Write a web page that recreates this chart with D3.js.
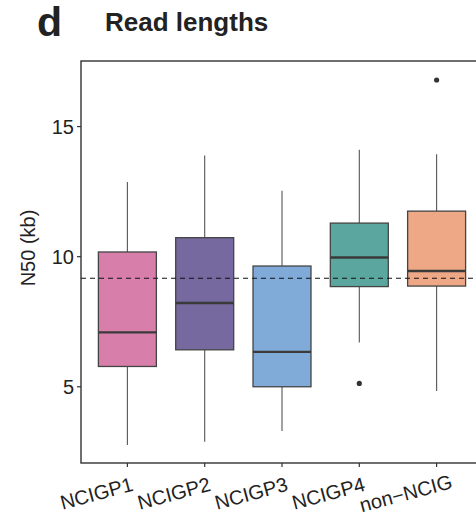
<!DOCTYPE html>
<html>
<head>
<meta charset="utf-8">
<script src="https://cdn.jsdelivr.net/npm/d3@7"></script>
<style>
  html, body { margin: 0; padding: 0; background: #fff; }
  svg { display: block; font-family: "Liberation Sans", Arial, Helvetica, sans-serif; }
</style>
</head>
<body>
<svg id="chart" width="476" height="527"></svg>
<script>
// N50 read-length summaries (kb) per group
const groups   = ["NCIGP1", "NCIGP2", "NCIGP3", "NCIGP4", "non\u2212NCIG"];
const whiskLo  = [2.76, 2.89, 3.30, 6.70, 4.84];
const q1       = [5.78, 6.42, 5.00, 8.85, 8.87];
const medians  = [7.09, 8.22, 6.34, 9.97, 9.45];
const q3       = [10.18, 10.73, 9.64, 11.29, 11.75];
const whiskHi  = [12.87, 13.89, 12.53, 14.11, 13.94];
const outliers = [[], [], [], [5.13], [16.79]];
const fills    = ["#D77EAB", "#7569A0", "#80ABD8", "#5BA69E", "#EEA886"];
const yTicks   = [5, 10, 15];
const overallMedian = 9.17;

const svg = d3.select("#chart");
const m = { left: 81, top: 61, right: 483, bottom: 463 };

// discrete x positions with 0.6 category units of padding on each side
const x = d3.scalePoint().domain(groups).range([m.left, m.right]).padding(0.6);
const step = x.step();
const boxW = step * 0.75;

const y = d3.scaleLinear().domain([2.07, 17.52]).range([m.bottom, m.top]);

const rows = groups.map((g, i) => ({
  g, lo: whiskLo[i], q1: q1[i], med: medians[i], q3: q3[i], hi: whiskHi[i],
  out: outliers[i], fill: fills[i]
}));

// panel frame
svg.append("rect")
  .attr("x", m.left).attr("y", m.top)
  .attr("width", m.right - m.left).attr("height", m.bottom - m.top)
  .attr("fill", "none").attr("stroke", "#333").attr("stroke-width", 1.4);

// y axis ticks and labels
const yAxis = svg.append("g");
yTicks.forEach(t => {
  yAxis.append("line")
    .attr("x1", m.left - 4).attr("x2", m.left)
    .attr("y1", y(t)).attr("y2", y(t))
    .attr("stroke", "#333").attr("stroke-width", 1.2);
  yAxis.append("text")
    .attr("x", m.left - 7).attr("y", y(t))
    .attr("dy", "0.36em").attr("text-anchor", "end")
    .attr("font-size", 20).attr("fill", "#222")
    .text(t);
});

svg.append("text")
  .attr("transform", "translate(35,248) rotate(-90)")
  .attr("text-anchor", "middle")
  .attr("font-size", 20).attr("fill", "#222")
  .text("N50 (kb)");

// x axis ticks and rotated labels
groups.forEach(g => {
  svg.append("line")
    .attr("x1", x(g)).attr("x2", x(g))
    .attr("y1", m.bottom).attr("y2", m.bottom + 4)
    .attr("stroke", "#333").attr("stroke-width", 1.2);
  svg.append("text")
    .attr("transform", `translate(${x(g) - 29},${m.bottom + 37}) rotate(-15)`)
    .attr("text-anchor", "middle")
    .attr("font-size", 20).attr("fill", "#222")
    .text(g);
});

// boxes
const box = svg.append("g").selectAll("g").data(rows).join("g");

box.append("line")
  .attr("x1", d => x(d.g)).attr("x2", d => x(d.g))
  .attr("y1", d => y(d.q3)).attr("y2", d => y(d.hi))
  .attr("stroke", "#555").attr("stroke-width", 1.1);
box.append("line")
  .attr("x1", d => x(d.g)).attr("x2", d => x(d.g))
  .attr("y1", d => y(d.q1)).attr("y2", d => y(d.lo))
  .attr("stroke", "#555").attr("stroke-width", 1.1);

box.append("rect")
  .attr("x", d => x(d.g) - boxW / 2).attr("width", boxW)
  .attr("y", d => y(d.q3)).attr("height", d => y(d.q1) - y(d.q3))
  .attr("fill", d => d.fill)
  .attr("stroke", "#444").attr("stroke-width", 1.3);

box.append("line")
  .attr("x1", d => x(d.g) - boxW / 2).attr("x2", d => x(d.g) + boxW / 2)
  .attr("y1", d => y(d.med)).attr("y2", d => y(d.med))
  .attr("stroke", "#3a3a3a").attr("stroke-width", 2.4);

box.selectAll("circle").data(d => d.out.map(v => ({ g: d.g, v }))).join("circle")
  .attr("cx", d => x(d.g)).attr("cy", d => y(d.v))
  .attr("r", 2.6).attr("fill", "#333");

// overall median reference line
svg.append("line")
  .attr("x1", m.left).attr("x2", m.right)
  .attr("y1", y(overallMedian)).attr("y2", y(overallMedian))
  .attr("stroke", "#111").attr("stroke-width", 1.2)
  .attr("stroke-dasharray", "5,4");

// headings
svg.append("text")
  .attr("x", 37).attr("y", 36)
  .attr("font-size", 41).attr("font-weight", "bold").attr("fill", "#222")
  .text("d");
svg.append("text")
  .attr("x", 105).attr("y", 31)
  .attr("font-size", 26).attr("font-weight", "bold").attr("fill", "#222")
  .text("Read lengths");
</script>
</body>
</html>
